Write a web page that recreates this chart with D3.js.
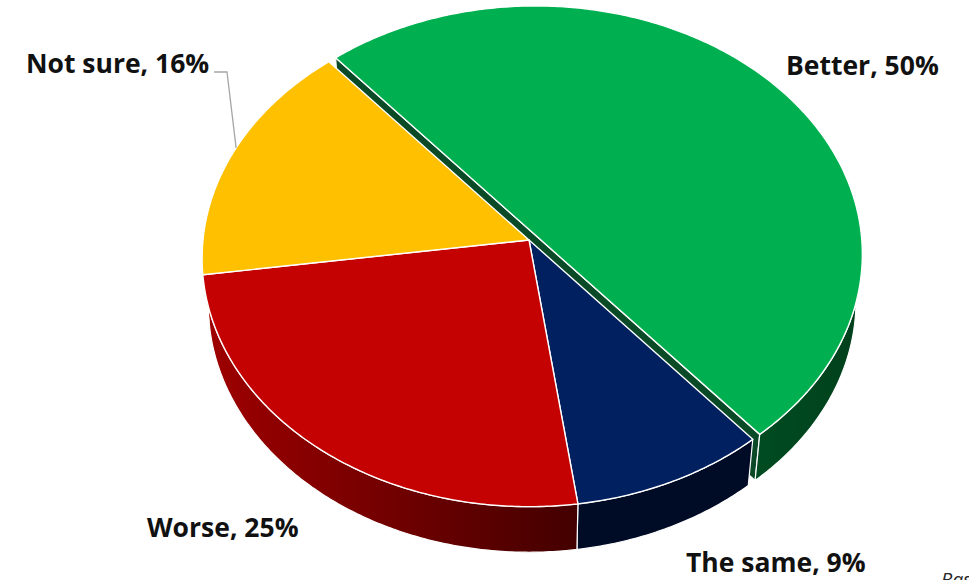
<!DOCTYPE html>
<html>
<head>
<meta charset="utf-8">
<script src="https://cdn.jsdelivr.net/npm/d3@7"></script>
<style>
  html, body { margin: 0; padding: 0; background: #ffffff; }
  svg { display: block; }
  .label { font-family: "Open Sans", "Noto Sans", sans-serif; font-weight: 700; fill: #111111; }
  .note { font-family: "Open Sans", "Noto Sans", sans-serif; font-style: italic; fill: #262626; }
</style>
</head>
<body>
<svg id="chart" width="969" height="580"></svg>
<script>
// Survey answers, in the order the slices run clockwise
const categories = ["Better", "The same", "Worse", "Not sure"];
const values = [50, 9, 25, 16];
const exploded = [true, false, false, false];
const sourceNote = "Base";

// Slice colours: top face, outer wall (left/right shade)
const topColors = ["#00b050", "#002060", "#c40202", "#ffc000"];
const wallLeft = ["#005a28", "#001036", "#a00000", "#c79500"];
const wallRight = ["#00411c", "#000b26", "#430000", "#a87e00"];
const cutWallColor = "#0a4a26";

const width = 969, height = 580;
const svg = d3.select("#chart");

// 3D pie geometry: apex on screen, radius, tilt, thickness, camera distance
const cx = 529, cy = 240;
const R = 326;
const tilt = Math.asin(0.758);
const sinT = Math.sin(tilt), cosT = Math.cos(tilt);
const depth = 74;
const camera = 2900;
const explodeBy = 9;
const firstAngle = -40.4 * Math.PI / 180;

// Project a point on the pie (X right, Y up, Z toward the viewer) to the screen
function project(X, Y, Z) {
  const v = Z * sinT - Y * cosT;
  const w = Z * cosT + Y * sinT;
  const s = camera / (camera - w);
  return [cx + X * s, cy + v * s];
}
// Angle a follows d3.pie: 0 = far side, increasing clockwise seen from above
function rim(a, y, off) {
  return project(off[0] + R * Math.sin(a), y, off[1] - R * Math.cos(a));
}
function arcPoints(a0, a1, y, off) {
  const n = Math.max(2, Math.ceil(Math.abs(a1 - a0) / 0.01));
  return d3.range(n + 1).map(i => rim(a0 + (a1 - a0) * i / n, y, off));
}

const pie = d3.pie().sort(null).value(d => d)
  .startAngle(firstAngle).endAngle(firstAngle + 2 * Math.PI);
const slices = pie(values).map((d, i) => {
  const mid = (d.startAngle + d.endAngle) / 2;
  const e = exploded[i] ? explodeBy : 0;
  return { ...d, i, off: [e * Math.sin(mid), -e * Math.cos(mid)] };
});

const line = d3.line();
const closed = pts => line(pts) + "Z";

// Gradients for the curved walls
const defs = svg.append("defs");
slices.forEach(s => {
  const g = defs.append("linearGradient")
    .attr("id", "wall" + s.i)
    .attr("gradientUnits", "userSpaceOnUse")
    .attr("x1", cx - R).attr("x2", cx + R * 0.15).attr("y1", 0).attr("y2", 0);
  g.append("stop").attr("offset", 0).attr("stop-color", wallLeft[s.i]);
  g.append("stop").attr("offset", 1).attr("stop-color", wallRight[s.i]);
});
defs.select("#wall0").attr("x1", cx + R * 0.3).attr("x2", cx + R);

const pieG = svg.append("g");

// Radial walls of exploded slices (the cut faces toward the viewer)
slices.filter(s => exploded[s.i]).forEach(s => {
  const o = s.off;
  const aFar = rim(s.startAngle, 0, o), aNear = rim(s.endAngle, 0, o);
  const bFar = rim(s.startAngle, -depth, o), bNear = rim(s.endAngle, -depth, o);
  pieG.append("path")
    .attr("d", closed([aFar, aNear, bNear, bFar]))
    .attr("fill", cutWallColor)
    .attr("stroke", "#ffffff").attr("stroke-width", 1.2)
    .attr("stroke-linejoin", "round");
});

// Outer curved walls, front half only
const frontLo = Math.PI / 2 - 0.12, frontHi = 3 * Math.PI / 2 + 0.12;
slices.forEach(s => {
  const a0 = Math.max(s.startAngle, frontLo), a1 = Math.min(s.endAngle, frontHi);
  if (a1 <= a0) return;
  const topEdge = arcPoints(a0, a1, 0, s.off);
  const botEdge = arcPoints(a1, a0, -depth, s.off);
  pieG.append("path")
    .attr("d", closed(topEdge.concat(botEdge)))
    .attr("fill", `url(#wall${s.i})`)
    .attr("stroke", "#ffffff").attr("stroke-width", 1.2)
    .attr("stroke-linejoin", "round");
});

// Top faces
slices.forEach(s => {
  const apex = project(s.off[0], 0, s.off[1]);
  pieG.append("path")
    .attr("d", closed([apex].concat(arcPoints(s.startAngle, s.endAngle, 0, s.off))))
    .attr("fill", topColors[s.i])
    .attr("stroke", "#ffffff").attr("stroke-width", 1.4)
    .attr("stroke-linejoin", "round");
});

// Data labels
const labelPos = [
  { x: 786, y: 75 },
  { x: 686, y: 572 },
  { x: 147, y: 537 },
  { x: 26, y: 73 }
];
const labelSize = 26.5;
categories.forEach((c, i) => {
  svg.append("text").attr("class", "label")
    .attr("x", labelPos[i].x).attr("y", labelPos[i].y)
    .attr("font-size", labelSize)
    .text(`${c}, ${values[i]}%`);
});

// Leader line from the "Not sure" label to its slice
const ns = slices[3];
const leaderEnd = rim(ns.startAngle + (ns.endAngle - ns.startAngle) * 0.53, 0, ns.off);
svg.append("path")
  .attr("d", line([[214, 72], [227, 72], leaderEnd]))
  .attr("fill", "none").attr("stroke", "#a6a6a6").attr("stroke-width", 1.3);

// Source note (runs off the bottom-right corner)
svg.append("text").attr("class", "note")
  .attr("x", 941).attr("y", 586).attr("font-size", 19)
  .text(sourceNote);
</script>
</body>
</html>
